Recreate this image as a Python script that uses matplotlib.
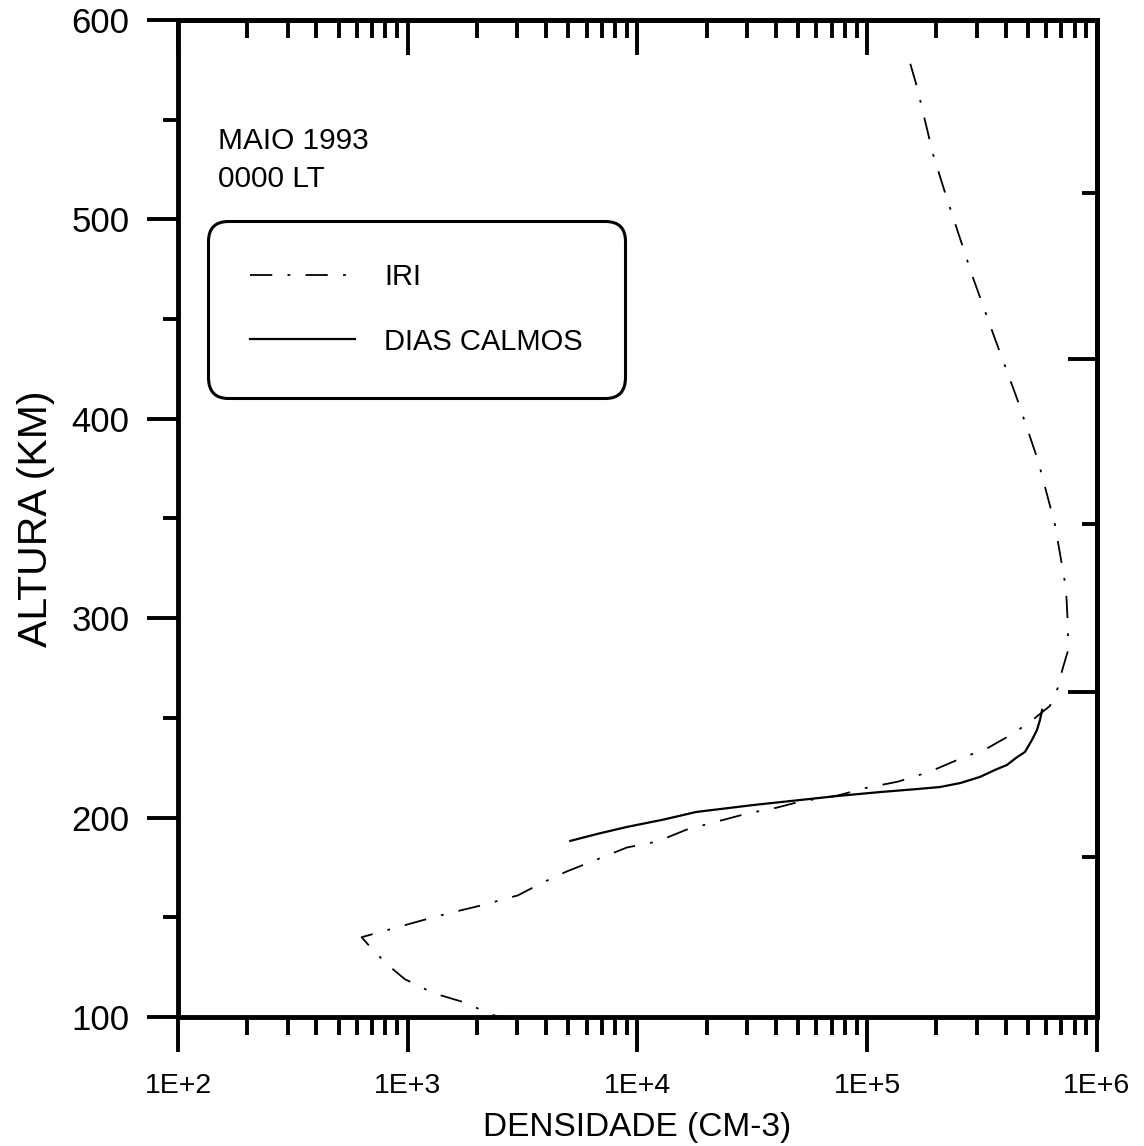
import numpy as np
import matplotlib
matplotlib.use("Agg")
import matplotlib.pyplot as plt
from matplotlib.ticker import FixedLocator, NullFormatter

plt.rcParams['font.family'] = ['Liberation Sans', 'DejaVu Sans']
plt.rcParams['lines.scale_dashes'] = False

########## DATA ##########

# IRI model profile (altitude km, density cm-3)
iri_alt = [578, 566, 533, 512, 471, 440, 410, 379, 347, 315, 295, 283, 275, 265, 256,
           249, 242, 235, 229, 223, 218, 215, 211, 208, 205, 202, 198, 194, 188, 185,
           179, 173, 167, 161, 156, 152.5, 148.5, 144, 140, 134, 126, 119, 112, 107.5, 101, 100]
iri_dens = [1.54e5, 1.65e5, 1.93e5, 2.2e5, 2.88e5, 3.6e5, 4.49e5, 5.54e5, 6.56e5, 7.33e5,
            7.48e5, 7.45e5, 7.1e5, 6.75e5, 6.24e5, 5.25e5, 4.3e5, 3.36e5, 2.48e5, 1.87e5,
            1.36e5, 1.0e5, 7.4e4, 5.1e4, 4.05e4, 3.0e4, 2.22e4, 1.64e4, 1.22e4, 9.0e3,
            6.67e3, 4.93e3, 3.8e3, 3.02e3, 2.1e3, 1.57e3, 1.16e3, 8.4e2, 6.3e2, 7.0e2,
            8.2e2, 9.7e2, 1.29e3, 1.74e3, 2.35e3, 2.5e3]

# quiet days profile
calm_alt = [188.3, 192.0, 195.3, 199.0, 202.8, 206.3, 208.8, 210.8, 212.8, 214.3, 215.3,
            217.3, 220.4, 223.9, 226.4, 229.9, 232.9, 238.9, 243.9, 249.0, 254.0]
calm_dens = [5.1e3, 6.8e3, 9.0e3, 1.3e4, 1.8e4, 3.2e4, 5.1e4, 7.4e4, 1.14e5, 1.65e5, 2.07e5,
             2.54e5, 3.1e5, 3.6e5, 4.06e5, 4.44e5, 4.86e5, 5.21e5, 5.48e5, 5.65e5, 5.77e5]

x_ticks = [1e2, 1e3, 1e4, 1e5, 1e6]
x_ticklabels = ['1E+2', '1E+3', '1E+4', '1E+5', '1E+6']
y_ticks = [100, 200, 300, 400, 500, 600]
y_minor = [150, 250, 350, 450, 550]
right_major = [263, 430]
right_minor = [180, 347, 513]

########## PLOT ##########

fig = plt.figure(figsize=(11.44, 11.46), dpi=100)
ax = fig.add_axes([0.1556, 0.1126, 0.8033, 0.870])

ax.plot(iri_dens, iri_alt, color='black', lw=1.3,
        linestyle=(0, (16, 11, 2, 11)), label='IRI')
ax.plot(calm_dens, calm_alt, color='black', lw=1.6, label='DIAS CALMOS')

ax.set_xscale('log')
ax.set_xlim(1e2, 1e6)
ax.set_ylim(100, 600)

for s in ax.spines.values():
    s.set_linewidth(3.5)

# bottom axis: ticks outward
ax.xaxis.set_major_locator(FixedLocator(x_ticks))
ax.set_xticklabels(x_ticklabels)
minor_x = [m * 10 ** e for e in range(2, 6) for m in range(2, 10)]
ax.xaxis.set_minor_locator(FixedLocator(minor_x))
ax.xaxis.set_minor_formatter(NullFormatter())
ax.tick_params(axis='x', which='major', direction='out', length=25, width=2.8,
               labelsize=20.5, pad=15, top=False)
ax.tick_params(axis='x', which='minor', direction='out', length=13, width=2.8, top=False)

# left axis: ticks outward
ax.yaxis.set_major_locator(FixedLocator(y_ticks))
ax.yaxis.set_minor_locator(FixedLocator(y_minor))
ax.tick_params(axis='y', which='major', direction='out', length=22, width=2.8,
               labelsize=25, pad=13, right=False)
ax.tick_params(axis='y', which='minor', direction='out', length=11, width=2.8, right=False)

# top axis: ticks inward
top = ax.secondary_xaxis('top')
top.xaxis.set_major_locator(FixedLocator(x_ticks))
top.xaxis.set_minor_locator(FixedLocator(minor_x))
top.xaxis.set_major_formatter(NullFormatter())
top.xaxis.set_minor_formatter(NullFormatter())
top.tick_params(which='major', direction='in', length=25, width=2.8)
top.tick_params(which='minor', direction='in', length=13, width=2.8)
top.spines['top'].set_linewidth(3.5)

# right axis: ticks inward
right = ax.secondary_yaxis('right')
right.yaxis.set_major_locator(FixedLocator(right_major))
right.yaxis.set_minor_locator(FixedLocator(right_minor))
right.yaxis.set_major_formatter(NullFormatter())
right.yaxis.set_minor_formatter(NullFormatter())
right.tick_params(which='major', direction='in', length=21, width=2.8)
right.tick_params(which='minor', direction='in', length=11, width=2.8)
right.spines['right'].set_linewidth(3.5)

ax.set_xlabel('DENSIDADE (CM-3)', fontsize=24, labelpad=10)
ax.set_ylabel('ALTURA (KM)', fontsize=29.5, labelpad=12)

ax.text(0.044, 0.893, 'MAIO 1993\n0000 LT', transform=ax.transAxes,
        fontsize=21.5, va='top', ha='left', linespacing=1.45)

leg = ax.legend(loc='upper left', bbox_to_anchor=(0.0326, 0.7985), borderaxespad=0,
                fontsize=21, handlelength=3.6, handletextpad=1.0, labelspacing=1.25,
                borderpad=1.45, fancybox=True, framealpha=1, edgecolor='black')
leg.get_frame().set_linewidth(2.2)
leg.get_frame().set_boxstyle('round,pad=0,rounding_size=0.7')

fig.savefig("out.png", dpi=100)
plt.close(fig)
